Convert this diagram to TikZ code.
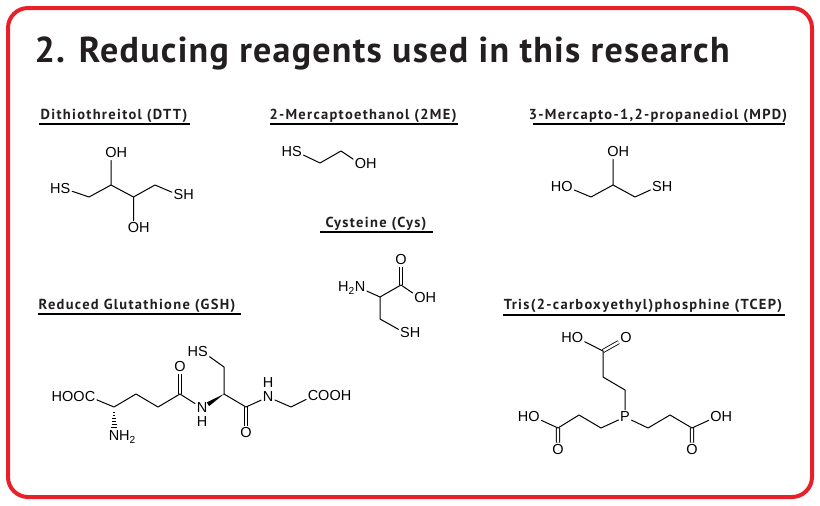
\documentclass[tikz,border=0pt]{standalone}
\usepackage{fontspec}
\setmainfont{PT Sans}
\newfontfamily\titlefont{PT Sans}[LetterSpace=3.5]
\newfontfamily\headfont{PT Sans}[LetterSpace=9]
\newfontfamily\atomfont{Liberation Sans}
\usetikzlibrary{calc}
\definecolor{khungdo}{HTML}{E8202A}
\definecolor{chuden}{HTML}{231F20}
\tikzset{
  atom/.style={inner xsep=1.5pt, inner ysep=2pt, font=\atomfont\fontsize{14.5}{16}\selectfont},
  bond/.style={line width=1pt},
  dbond/.style={double, double distance=2.4pt, line width=.85pt, line cap=butt},
  heading/.style={anchor=base, text=chuden, font=\headfont\bfseries\fontsize{14.5}{16}\selectfont},
  rule/.style={line width=2.2pt, line cap=butt}
}
\begin{document}
\begin{tikzpicture}[x=1pt, y=-1pt, line join = round, line cap = round]
\useasboundingbox (0,0) rectangle (820,506);
%Khung và tiêu đề
\draw[khungdo, line width=4pt, rounded corners=20pt] (8,8) rectangle (812,497);
\node[anchor=base west, text=chuden, font=\titlefont\bfseries\fontsize{36}{40}\selectfont] (tieude) at (31,62) {2. Reducing reagents used in this research};
%DTT
\node[heading] (tdtt) at (114,119) {Dithiothreitol (DTT)};
\draw[rule] (39,124) -- (190,124);
\node[atom] (dtts1) at (65.5,189) {\llap{H}S};
\coordinate (dtt1) at (89,197);
\coordinate (dtt2) at (111,185);
\coordinate (dtt3) at (133.5,197);
\coordinate (dtt4) at (155,185);
\node[atom] (dtto1) at (111,153) {O\rlap{H}};
\node[atom] (dtto2) at (133.5,228) {O\rlap{H}};
\node[atom] (dtts2) at (178.5,195) {S\rlap{H}};
\draw[bond] (dtts1) -- (dtt1) -- (dtt2) -- (dtt3) -- (dtt4) -- (dtts2) (dtt2) -- (dtto1) (dtt3) -- (dtto2);
%2ME
\node[heading] (t2me) at (363,119) {2-Mercaptoethanol (2ME)};
\draw[rule] (270,124) -- (458,124);
\node[atom] (mes) at (297,152) {\llap{H}S};
\coordinate (me1) at (320,163);
\coordinate (me2) at (341,151);
\node[atom] (meo) at (360.5,164) {O\rlap{H}};
\draw[bond] (mes) -- (me1) -- (me2) -- (meo);
%MPD
\node[heading] (tmpd) at (658,119) {3-Mercapto-1,2-propanediol (MPD)};
\draw[rule] (533,124) -- (785,124);
\node[atom] (mpdo1) at (567,187) {\llap{H}O};
\coordinate (mpd1) at (591,197);
\coordinate (mpd2) at (613,185);
\coordinate (mpd3) at (635,197);
\node[atom] (mpdo2) at (613,152) {O\rlap{H}};
\node[atom] (mpds) at (657,187) {S\rlap{H}};
\draw[bond] (mpdo1) -- (mpd1) -- (mpd2) -- (mpd3) -- (mpds) (mpd2) -- (mpdo2);
%Cys
\node[heading] (tcys) at (376,227) {Cysteine (Cys)};
\draw[rule] (320,232) -- (433,232);
\node[atom] (cysn) at (360,288) {\llap{H\textsubscript{2}}N};
\coordinate (cys1) at (380,297);
\coordinate (cys2) at (401,285);
\coordinate (cys3) at (380,319);
\node[atom] (cyso1) at (401,260) {O};
\node[atom] (cyso2) at (420,298) {O\rlap{H}};
\node[atom] (cyss) at (405,333) {S\rlap{H}};
\draw[dbond] (cys2) -- (cyso1);
\draw[bond] (cysn) -- (cys1) -- (cys2) -- (cyso2) (cys1) -- (cys3) -- (cyss);
%GSH
\node[heading] (tgsh) at (137,309) {Reduced Glutathione (GSH)};
\draw[rule] (38,314) -- (241,314);
\node[atom] (gshc1) at (90,397) {\llap{HOO}C};
\coordinate (gsh1) at (114,407);
\coordinate (gsh2) at (136,394);
\coordinate (gsh3) at (158,407);
\coordinate (gsh4) at (180,394);
\node[atom] (gsho1) at (180,367) {O};
\node[atom] (gshn1) at (202,408) {N};
\node[atom] (gshh1) at (202,422) {H};
\coordinate (gsh5) at (224,394);
\coordinate (gsh6) at (224,367);
\node[atom] (gshs) at (203,352) {\llap{H}S};
\coordinate (gsh7) at (246,407);
\node[atom] (gsho2) at (246,433) {O};
\node[atom] (gshn2) at (268,397) {N};
\node[atom] (gshh2) at (268,383) {H};
\coordinate (gsh8) at (291,407);
\node[atom] (gshc2) at (313,396) {C\rlap{OOH}};
\node[atom] (gshn3) at (114,437) {N\rlap{H\textsubscript{2}}};
\draw[dbond] (gsh4) -- (gsho1) (gsh7) -- (gsho2);
\draw[bond] (gshc1) -- (gsh1) -- (gsh2) -- (gsh3) -- (gsh4) -- (gshn1);
\draw[bond] (gsh5) -- (gsh6) -- (gshs);
\draw[bond] (gsh5) -- (gsh7) -- (gshn2) -- (gsh8) -- (gshc2);
\coordinate (gshw) at ($(gshn1)!7pt!(gsh5)$);
\fill (gsh5) -- ($(gshw)!2.2pt!90:(gsh5)$) -- ($(gshw)!2.2pt!-90:(gsh5)$) -- cycle;
\foreach \i in {0,...,5}
  \draw[line width=.8pt, line cap=butt] ($(gsh1)+(-.7-.45*\i,5+3*\i)$) -- ($(gsh1)+(.7+.45*\i,5+3*\i)$);
%TCEP
\node[heading] (ttcep) at (643,309) {Tris(2-carboxyethyl)phosphine (TCEP)};
\draw[rule] (503,315) -- (785,315);
\node[atom] (tcp) at (625,417) {P};
\coordinate (tct1) at (625,390);
\coordinate (tct2) at (603,377);
\coordinate (tct3) at (603,351);
\node[atom] (tcto1) at (577.5,338) {\llap{H}O};
\node[atom] (tcto2) at (626,338) {O};
\coordinate (tcl1) at (601,428);
\coordinate (tcl2) at (579,415);
\coordinate (tcl3) at (558,428);
\node[atom] (tclo1) at (534,417) {\llap{H}O};
\node[atom] (tclo2) at (558,450) {O};
\coordinate (tcr1) at (648,428);
\coordinate (tcr2) at (670,415);
\coordinate (tcr3) at (692,428);
\node[atom] (tcro1) at (716,417) {O\rlap{H}};
\node[atom] (tcro2) at (692,450) {O};
\draw[dbond] (tct3) -- (tcto2) (tcl3) -- (tclo2) (tcr3) -- (tcro2);
\draw[bond] (tcp) -- (tct1) -- (tct2) -- (tct3) -- (tcto1);
\draw[bond] (tcp) -- (tcl1) -- (tcl2) -- (tcl3) -- (tclo1);
\draw[bond] (tcp) -- (tcr1) -- (tcr2) -- (tcr3) -- (tcro1);
\end{tikzpicture}
\end{document}
